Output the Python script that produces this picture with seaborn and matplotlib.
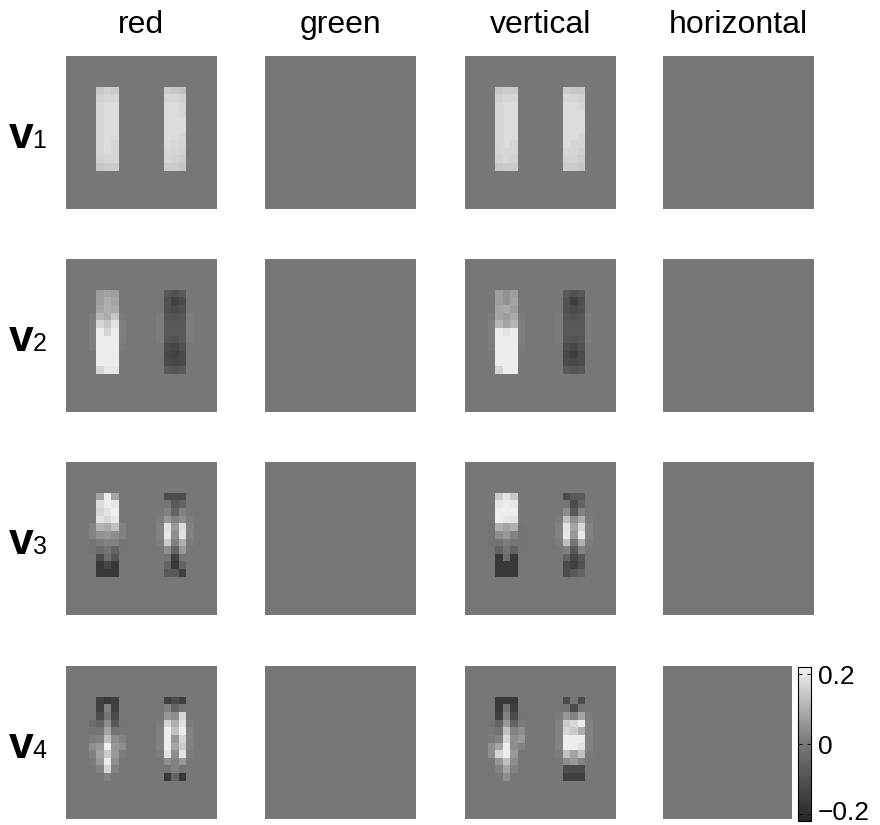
import numpy as np
import pandas as pd
import matplotlib
matplotlib.use("Agg")
import matplotlib.pyplot as plt
import matplotlib.transforms as mtransforms
import seaborn as sns
from matplotlib.colors import LinearSegmentedColormap

# ---------------- data ----------------
features = ["red", "green", "vertical", "horizontal"]
components = ["1", "2", "3", "4"]
grid_size = 20               # each receptive field is a 20 x 20 pixel map
bar_rows = (4, 15)           # rows covered by the two bars (11 rows)
left_cols = (3, 8)           # halo + 3 bar columns + halo
right_cols = (12, 17)
color_limits = (-0.22, 0.22)
cbar_ticks = [-0.2, 0, 0.2]
cbar_labels = ["\u22120.2", "0", "0.2"]

# every bar array: 11 rows x 5 cols (halo, bar, bar, bar, halo)
v1_red_left = [
    [0, .14, .16, .15, 0], [0, .16, .17, .17, 0], [0, .17, .18, .18, 0],
    [0, .17, .18, .18, 0], [0, .17, .18, .18, 0], [0, .17, .18, .18, 0],
    [0, .17, .18, .18, 0], [0, .17, .18, .17, 0], [0, .17, .18, .17, 0],
    [0, .16, .17, .17, 0], [0, .14, .15, .15, 0]]
v1_red_right = [
    [0, .15, .14, .13, 0], [0, .17, .17, .16, 0], [0, .18, .18, .17, 0],
    [0, .18, .18, .17, 0], [0, .18, .18, .18, 0], [0, .18, .18, .18, 0],
    [0, .18, .18, .17, 0], [0, .18, .17, .17, 0], [0, .17, .17, .16, 0],
    [0, .17, .16, .15, 0], [0, .15, .15, .14, 0]]
v1_vert_left = [
    [0, .14, .15, .15, 0], [0, .16, .17, .17, 0], [0, .17, .18, .18, 0],
    [0, .17, .18, .18, 0], [0, .17, .18, .18, 0], [0, .17, .18, .18, 0],
    [0, .17, .18, .18, 0], [0, .17, .18, .17, 0], [0, .17, .17, .17, 0],
    [0, .16, .17, .16, 0], [0, .14, .15, .15, 0]]
v1_vert_right = [
    [0, .15, .14, .14, 0], [0, .17, .17, .16, 0], [0, .18, .18, .17, 0],
    [0, .18, .18, .18, 0], [0, .18, .18, .18, 0], [0, .18, .18, .18, 0],
    [0, .18, .18, .17, 0], [0, .18, .17, .17, 0], [0, .17, .17, .16, 0],
    [0, .16, .16, .15, 0], [0, .15, .15, .14, 0]]

v2_red_left = [
    [0, .07, .08, .07, 0], [0, .07, .10, .08, 0], [0, .08, .10, .09, 0],
    [.01, .11, .09, .14, .01], [.015, .17, .14, .19, .015],
    [.015, .21, .17, .21, .015], [.015, .21, .21, .21, .015],
    [.01, .21, .21, .21, .01], [0, .21, .21, .21, 0],
    [0, .21, .21, .21, 0], [0, .17, .20, .20, 0]]
v2_red_right = [
    [0, -.08, -.10, -.08, 0], [0, -.10, -.14, -.12, 0], [0, -.10, -.12, -.10, 0],
    [.01, -.09, -.10, -.09, .01], [.01, -.08, -.09, -.08, .01],
    [.01, -.08, -.08, -.08, .01], [.01, -.09, -.10, -.08, .01],
    [0, -.12, -.13, -.10, 0], [0, -.13, -.14, -.12, 0],
    [0, -.12, -.13, -.12, 0], [0, -.08, -.09, -.08, 0]]
v2_vert_left = [
    [0, .07, .05, .07, 0], [0, .07, .05, .08, 0], [0, .08, .09, .07, 0],
    [.01, .08, .07, .09, .01], [.015, .11, .08, .11, .015],
    [.015, .21, .19, .21, .015], [.015, .21, .21, .21, .015],
    [.01, .21, .21, .21, .01], [0, .21, .21, .21, 0],
    [0, .21, .21, .21, 0], [0, .17, .21, .21, 0]]
v2_vert_right = [
    [0, -.08, -.10, -.08, 0], [0, -.10, -.15, -.11, 0], [0, -.10, -.12, -.10, 0],
    [.01, -.09, -.10, -.09, .01], [.01, -.08, -.09, -.08, .01],
    [.01, -.08, -.08, -.08, .01], [.01, -.09, -.10, -.09, .01],
    [0, -.11, -.13, -.10, 0], [0, -.13, -.15, -.12, 0],
    [0, -.12, -.13, -.12, 0], [0, -.08, -.09, -.08, 0]]

v3_red_left = [
    [0, .08, .21, .08, 0], [0, .18, .21, .20, 0], [0, .17, .19, .21, 0],
    [0, .19, .17, .20, 0], [.02, .11, .09, .13, .02], [.02, .05, .06, .04, .02],
    [-.01, .01, .02, .02, -.01], [-.01, -.03, -.01, -.05, -.01],
    [0, -.12, -.03, -.09, 0], [0, -.17, -.13, -.17, 0], [0, -.17, -.17, -.17, 0]]
v3_red_right = [
    [0, -.12, -.12, -.12, 0], [0, -.01, -.08, -.05, 0], [0, .02, -.05, .02, 0],
    [.01, .06, .02, .04, .01], [.02, .19, .06, .18, .02], [.02, .20, .04, .19, .02],
    [.01, .15, .02, .10, .01], [0, .04, -.05, .06, 0],
    [0, -.01, -.15, -.01, 0], [0, -.05, -.17, -.05, 0], [0, -.08, -.08, -.15, 0]]
v3_vert_left = [
    [0, .15, .19, .15, 0], [0, .20, .21, .20, 0], [0, .21, .21, .21, 0],
    [0, .21, .20, .19, 0], [-.01, .10, .08, .10, -.01], [-.01, .04, .06, .02, -.01],
    [-.01, -.01, .01, -.01, -.01], [-.01, -.06, -.01, -.06, -.01],
    [0, -.17, -.03, -.17, 0], [0, -.17, -.17, -.17, 0], [0, -.17, -.17, -.17, 0]]
v3_vert_right = [
    [0, -.12, -.08, -.08, 0], [0, -.01, -.12, -.05, 0], [0, .04, -.08, .02, 0],
    [.01, .13, .04, .10, .01], [.02, .19, .08, .17, .02], [.02, .20, .06, .20, .02],
    [.01, .13, -.01, .10, .01], [0, .02, -.08, .02, 0],
    [0, -.05, -.13, -.08, 0], [0, -.12, -.15, -.10, 0], [0, -.12, -.08, -.05, 0]]

v4_red_left = [
    [0, -.15, -.17, -.15, 0], [0, -.15, .02, -.15, 0], [0, -.12, -.01, -.12, 0],
    [-.03, -.05, .04, -.08, -.01], [-.01, -.01, .08, -.01, 0],
    [.01, .02, .13, .04, .02], [.04, .06, .21, .06, .04],
    [.02, .08, .15, .06, .01], [.01, .06, .21, .04, 0],
    [0, .02, .17, .02, 0], [0, 0, .02, 0, 0]]
v4_red_right = [
    [0, -.15, -.12, -.15, 0], [0, .02, -.05, -.01, 0], [0, .06, .04, .17, 0],
    [.01, .17, .10, .19, .01], [.02, .21, .13, .21, .02], [.02, .21, .06, .17, .02],
    [.02, .21, .08, .15, .02], [.01, .19, .04, .19, .01],
    [0, .04, .02, .06, 0], [0, -.01, .02, -.01, 0], [0, -.17, -.05, -.17, 0]]
v4_vert_left = [
    [0, -.17, -.17, -.17, 0], [0, -.17, -.01, -.15, 0], [0, -.15, .02, -.12, -.01],
    [-.01, -.05, .06, -.05, .01], [.005, -.01, .13, .02, .04],
    [.01, .02, .17, .04, .06], [.04, .08, .21, .04, .02],
    [.04, .17, .21, .06, 0], [0, .06, .13, .04, 0],
    [0, .02, .08, .02, 0], [0, 0, .04, 0, 0]]
v4_vert_right = [
    [0, -.12, -.01, -.12, 0], [0, -.01, -.12, -.01, 0], [.01, .06, .02, .08, .01],
    [.02, .15, .17, .21, .02], [.02, .17, .15, .10, .02], [.02, .21, .21, .21, .02],
    [.02, .21, .21, .19, .02], [.01, .13, .08, .13, .01],
    [0, .04, .06, .02, 0], [0, -.12, -.12, -.12, 0], [0, -.15, -.15, -.15, 0]]

bars = {
    ("1", "red"): (v1_red_left, v1_red_right),
    ("1", "vertical"): (v1_vert_left, v1_vert_right),
    ("2", "red"): (v2_red_left, v2_red_right),
    ("2", "vertical"): (v2_vert_left, v2_vert_right),
    ("3", "red"): (v3_red_left, v3_red_right),
    ("3", "vertical"): (v3_vert_left, v3_vert_right),
    ("4", "red"): (v4_red_left, v4_red_right),
    ("4", "vertical"): (v4_vert_left, v4_vert_right),
}


def field(comp, feat):
    m = np.zeros((grid_size, grid_size))
    if (comp, feat) in bars:
        left, right = bars[(comp, feat)]
        m[bar_rows[0]:bar_rows[1], left_cols[0]:left_cols[1]] = np.array(left)
        m[bar_rows[0]:bar_rows[1], right_cols[0]:right_cols[1]] = np.array(right)
    return pd.DataFrame(m)


# ---------------- style / layout ----------------
plt.rcParams["font.family"] = ["Liberation Sans", "DejaVu Sans"]
cmap = LinearSegmentedColormap.from_list("g", ["#262626", "#777777", "#f2f2f2"])

W, H = 880, 825
fig = plt.figure(figsize=(W / 100, H / 100), dpi=100)


def axes_px(left, top, w, h):
    return fig.add_axes([left / W, 1 - (top + h) / H, w / W, h / H])


col_left = [66, 265, 465, 663]
row_top = [56, 259, 462, 666]
pw, ph = 150.5, 153

cax = axes_px(798, 667, 13, 154)

for i, comp in enumerate(components):
    for j, feat in enumerate(features):
        last = (i == 3 and j == 3)
        ax = axes_px(col_left[j], row_top[i], 129 if last else pw, ph)
        sns.heatmap(field(comp, feat), ax=ax, cmap=cmap,
                    vmin=color_limits[0], vmax=color_limits[1],
                    cbar=last, cbar_ax=cax if last else None,
                    xticklabels=False, yticklabels=False)
        ax.set_xlabel("")
        ax.set_ylabel("")
        if last:
            cb = ax.collections[0].colorbar
            cb.set_ticks(cbar_ticks)
            cb.set_ticklabels(cbar_labels)
            cb.outline.set_linewidth(0.8)
            cb.outline.set_edgecolor("black")
            cax.tick_params(labelsize=19, direction="in", length=3, width=0.6,
                            left=True, right=True, pad=5)

# column titles
for j, feat in enumerate(features):
    fig.text((col_left[j] + pw / 2) / W, 1 - 33 / H, feat, ha="center",
             va="baseline", fontsize=23)

# row labels v_k
for i, comp in enumerate(components):
    base = row_top[i] + 92
    fig.text(9 / W, 1 - base / H, "v", fontweight="bold", fontsize=32,
             ha="left", va="baseline")
    fig.text(32.5 / W, 1 - base / H, comp, fontsize=18, ha="left",
             va="baseline")

# nudge the lowest colorbar label up so it stays inside the figure
fig.canvas.draw()
low_tick = cax.yaxis.get_major_ticks()[0]
for lab in (low_tick.label1, low_tick.label2):
    lab.set_transform(lab.get_transform() +
                      mtransforms.ScaledTranslation(0, 4 / 100, fig.dpi_scale_trans))

fig.savefig("out.png", dpi=100)
